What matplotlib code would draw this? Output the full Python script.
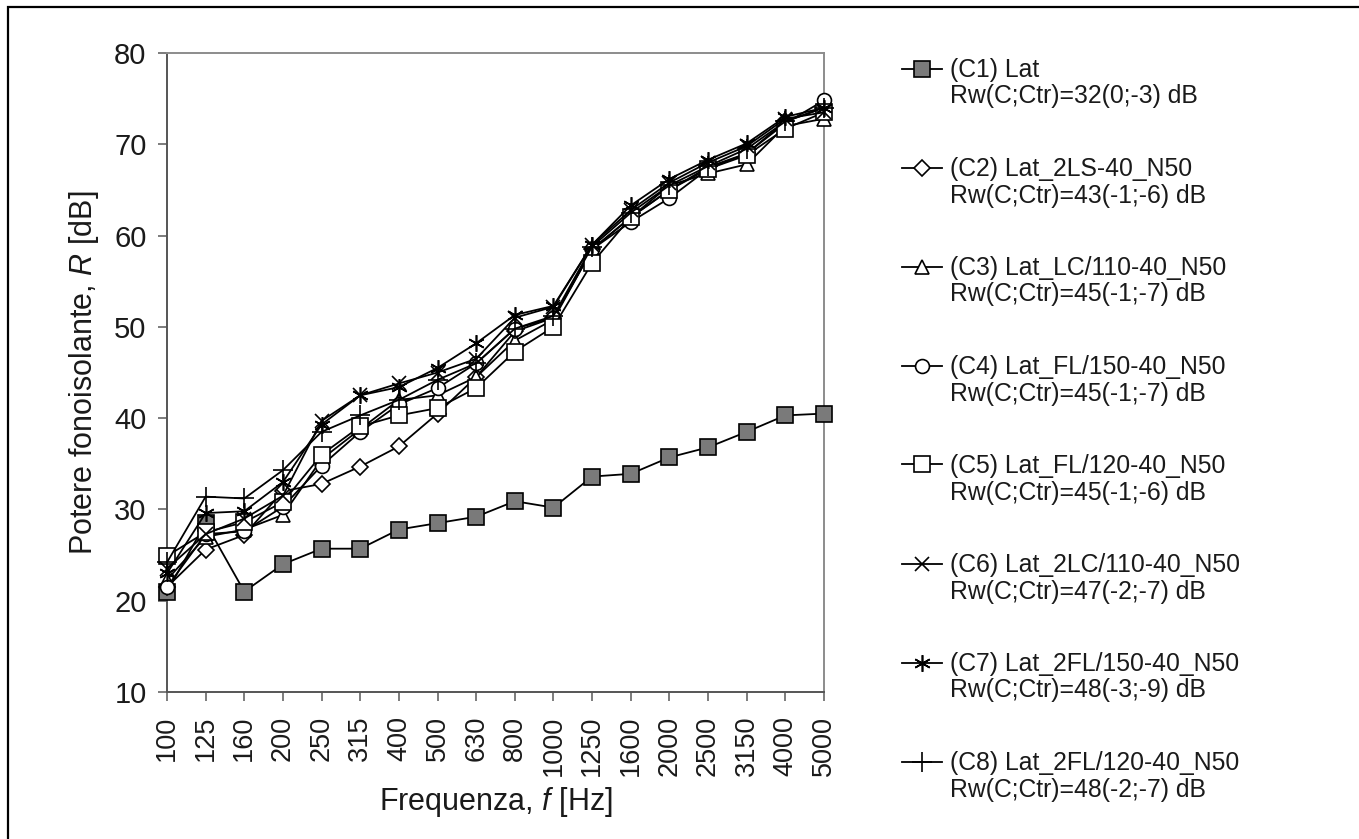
import matplotlib
matplotlib.use("Agg")
import matplotlib.pyplot as plt
from matplotlib.patches import Rectangle
from matplotlib.lines import Line2D
import numpy as np

plt.rcParams['font.family'] = ['Liberation Sans', 'DejaVu Sans']
plt.rcParams['mathtext.fontset'] = 'custom'
plt.rcParams['mathtext.rm'] = 'Liberation Sans'
plt.rcParams['mathtext.it'] = 'Liberation Sans:italic'

# Frequenze di terzo d'ottava [Hz]
frequenze = ['100', '125', '160', '200', '250', '315', '400', '500', '630',
             '800', '1000', '1250', '1600', '2000', '2500', '3150', '4000', '5000']

# Potere fonoisolante R [dB] per ciascuna configurazione
r_c1 = [21.0, 28.5, 21.0, 24.0, 25.7, 25.7, 27.8, 28.5, 29.2, 30.9, 30.2, 33.6, 33.9, 35.7, 36.8, 38.5, 40.3, 40.5]
r_c2 = [21.5, 25.6, 27.2, 32.0, 32.8, 34.7, 36.9, 40.5, 44.5, 49.5, 51.0, 58.5, 62.0, 65.0, 67.5, 69.0, 72.5, 74.0]
r_c3 = [22.3, 27.0, 27.8, 29.4, 35.5, 38.8, 42.0, 42.5, 44.5, 48.5, 50.8, 58.5, 62.0, 65.5, 66.8, 67.8, 72.0, 72.8]
r_c4 = [21.5, 27.3, 27.6, 30.3, 34.8, 38.5, 41.5, 43.3, 46.0, 49.8, 51.0, 58.5, 61.5, 64.1, 67.3, 69.0, 72.3, 74.8]
r_c5 = [24.9, 27.5, 28.6, 30.8, 36.0, 39.1, 40.3, 41.1, 43.3, 47.3, 50.0, 57.0, 62.0, 65.0, 67.3, 68.8, 71.7, 73.5]
r_c6 = [23.5, 27.3, 29.0, 31.5, 39.7, 42.5, 43.8, 45.0, 46.5, 51.0, 52.2, 59.0, 62.8, 65.8, 68.0, 69.8, 72.8, 73.5]
r_c7 = [23.0, 29.6, 29.8, 33.0, 39.3, 42.5, 43.4, 45.5, 48.2, 51.3, 52.3, 59.0, 63.3, 66.2, 68.3, 70.1, 73.0, 74.0]
r_c8 = [24.2, 31.4, 31.2, 34.3, 38.5, 40.3, 42.0, 44.2, 46.0, 49.8, 51.2, 58.8, 62.5, 65.5, 67.6, 69.5, 72.5, 74.0]

nomi = ['(C1) Lat', '(C2) Lat_2LS-40_N50', '(C3) Lat_LC/110-40_N50',
        '(C4) Lat_FL/150-40_N50', '(C5) Lat_FL/120-40_N50', '(C6) Lat_2LC/110-40_N50',
        '(C7) Lat_2FL/150-40_N50', '(C8) Lat_2FL/120-40_N50']
indici_rw = ['Rw(C;Ctr)=32(0;-3) dB', 'Rw(C;Ctr)=43(-1;-6) dB', 'Rw(C;Ctr)=45(-1;-7) dB',
             'Rw(C;Ctr)=45(-1;-7) dB', 'Rw(C;Ctr)=45(-1;-6) dB', 'Rw(C;Ctr)=47(-2;-7) dB',
             'Rw(C;Ctr)=48(-3;-9) dB', 'Rw(C;Ctr)=48(-2;-7) dB']

serie = [r_c1, r_c2, r_c3, r_c4, r_c5, r_c6, r_c7, r_c8]

# marker, dimensione, riempimento
stili = [
    ('s', 11, '#7a7a7a'),
    ('D', 8, 'white'),
    ('^', 10, 'white'),
    ('o', 10, 'white'),
    ('s', 11, 'white'),
    ('x', 10, 'white'),
    ((6, 2, 0), 12, 'white'),
    ('+', 14, 'white'),
]

W, H = 1359, 839
fig = plt.figure(figsize=(W / 100, H / 100), dpi=100)
ax = fig.add_axes([167 / W, 1 - 692 / H, 657 / W, 639 / H])

x = np.arange(len(frequenze))
for valori, (mk, ms, fc) in zip(serie, stili):
    ax.plot(x, valori, color='black', linewidth=1.3, marker=mk, markersize=ms,
            markerfacecolor=fc, markeredgecolor='black', markeredgewidth=1.2,
            clip_on=False, zorder=3)

ax.set_xlim(0, len(frequenze) - 1)
ax.set_ylim(10, 80)
ax.set_yticks(range(10, 81, 10))
ax.set_xticks(x)
ax.set_xticklabels(frequenze, rotation=90)

ax.tick_params(axis='both', direction='out', length=6.2, width=1.2, color='#666666',
               labelcolor='#1a1a1a')
ax.tick_params(axis='y', pad=8.5, labelsize=21)
ax.tick_params(axis='x', pad=11, labelsize=19.5)

for lato in ['left', 'bottom']:
    ax.spines[lato].set_color('#555555')
    ax.spines[lato].set_linewidth(1.4)
for lato in ['top', 'right']:
    ax.spines[lato].set_color('#8c8c8c')
    ax.spines[lato].set_linewidth(1.4)

ax.set_ylabel('Potere fonoisolante, $\\mathit{R}$ [dB]', fontsize=22, color='#1a1a1a')
ax.set_xlabel('Frequenza, $\\mathit{f}$ [Hz]', fontsize=22, color='#1a1a1a')
ax.yaxis.set_label_coords((101 - 167) / 657, 0.5)
ax.xaxis.set_label_coords(0.5, (692 - 785) / 639)

# legenda: simbolo sulla prima riga, indice Rw sulla seconda
for i, (nome, rw, (mk, ms, fc)) in enumerate(zip(nomi, indici_rw, stili)):
    base = 77 + 99 * i
    yh = 1 - (base - 8.5) / H
    fig.add_artist(Line2D([902 / W, 942 / W], [yh, yh], transform=fig.transFigure,
                          color='black', linewidth=1.3))
    fig.add_artist(Line2D([922 / W], [yh], transform=fig.transFigure, color='black',
                          marker=mk, markersize=ms, markerfacecolor=fc,
                          markeredgecolor='black', markeredgewidth=1.2))
    fig.text(950 / W, 1 - base / H, nome, fontsize=17.8, color='#1a1a1a', va='baseline')
    fig.text(950 / W, 1 - (base + 26.5) / H, rw, fontsize=17.8, color='#1a1a1a', va='baseline')

# cornice esterna
fig.add_artist(Rectangle((8 / W, -0.1), 1.2, 1.1 - 7 / H, transform=fig.transFigure,
                         fill=False, edgecolor='black', linewidth=1.6, clip_on=False))

fig.savefig('out.png', dpi=100)
